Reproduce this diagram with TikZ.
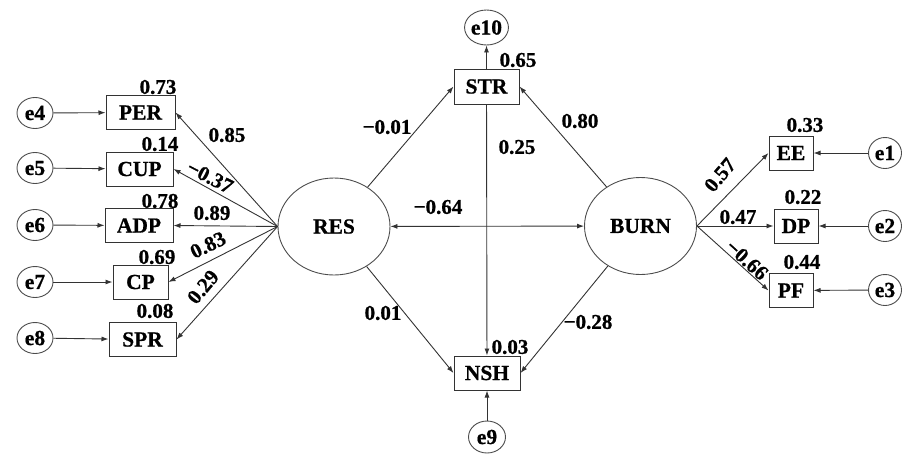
\documentclass[tikz,border=0pt]{standalone}
\usepackage{fontspec}
\setmainfont{Liberation Serif}
\newfontfamily\diagfont{Liberation Serif Bold}[FakeBold=0.8]
\usetikzlibrary{arrows.meta,shapes.geometric}
\begin{document}
\begin{tikzpicture}[x=1pt,y=-1pt,
  font=\diagfont\fontsize{21.5}{24}\selectfont,
  obs/.style={draw=black!80, line width=1pt, minimum height=34pt, inner sep=0pt},
  lat/.style={ellipse, draw=black!70, line width=0.9pt, minimum width=112pt, minimum height=97pt, inner sep=0pt},
  err/.style={ellipse, draw=black!70, line width=0.9pt, minimum width=36pt, minimum height=31pt, inner sep=0pt},
  arr/.style={draw=black!80, line width=0.9pt, -{Latex[length=7pt,width=5pt]}},
  darr/.style={draw=black!80, line width=0.9pt, {Latex[length=7pt,width=5pt]}-{Latex[length=7pt,width=5pt]}},
  lab/.style={font=\diagfont\fontsize{21}{23}\selectfont, inner sep=0pt}]
\useasboundingbox (0,0) rectangle (902,453);
% latent
\node[lat] (RES) at (334,226.5) {RES};
\node[lat] (BURN) at (640.5,226) {BURN};
% left indicators
\node[obs, minimum width=69pt] (PER) at (140.5,112.5) {PER};
\node[obs, minimum width=67pt] (CUP) at (139.5,169) {CUP};
\node[obs, minimum width=68pt] (ADP) at (139,225.5) {ADP};
\node[obs, minimum width=55pt] (CP) at (140.5,282) {CP};
\node[obs, minimum width=67pt] (SPR) at (142.5,339.5) {SPR};
\node[err] (e4) at (35,113) {e4};
\node[err] (e5) at (35,168) {e5};
\node[err] (e6) at (35,225) {e6};
\node[err] (e7) at (35,282) {e7};
\node[err] (e8) at (35,338) {e8};
% center
\node[obs, minimum width=65pt, minimum height=35pt] (STR) at (486.5,86.5) {STR};
\node[err, minimum width=39pt, minimum height=35pt] (e10) at (486.5,27.5) {e10};
\node[obs, minimum width=66pt] (NSH) at (487,373) {NSH};
\node[err, minimum width=37pt, minimum height=32pt] (e9) at (487,437) {e9};
% right indicators
\node[obs, minimum width=44pt] (EE) at (791,153) {EE};
\node[obs, minimum width=44pt] (DP) at (796,226) {DP};
\node[obs, minimum width=44pt] (PF) at (791,290.5) {PF};
\node[err, minimum width=33pt] (e1) at (885,153) {e1};
\node[err, minimum width=33pt] (e2) at (885,226) {e2};
\node[err, minimum width=33pt] (e3) at (885,290) {e3};
% error arrows
\draw[arr] (e4) -- (PER);
\draw[arr] (e5) -- (CUP);
\draw[arr] (e6) -- (ADP);
\draw[arr] (e7) -- (CP);
\draw[arr] (e8) -- (SPR);
\draw[arr] (e1) -- (EE);
\draw[arr] (e2) -- (DP);
\draw[arr] (e3) -- (PF);
\draw[arr] (STR) -- (e10);
\draw[arr] (e9) -- (NSH);
% loadings
\draw[arr] (RES.west) -- (PER.east);
\draw[arr] (RES.west) -- (CUP.east);
\draw[arr] (RES.west) -- (ADP.east);
\draw[arr] (RES.west) -- (CP.east);
\draw[arr] (RES.west) -- (SPR.east);
\draw[arr] (BURN.east) -- (EE.west);
\draw[arr] (BURN.east) -- (DP.west);
\draw[arr] (BURN.east) -- (PF.west);
% structural
\draw[darr] (RES) -- (BURN);
\draw[arr] (RES) -- (STR.west);
\draw[arr] (BURN) -- (STR.east);
\draw[arr] (RES) -- (NSH.west);
\draw[arr] (BURN) -- (NSH.east);
\draw[arr] (STR) -- (NSH);
% labels
\node[lab] at (158,87) {0.73};
\node[lab] at (160,144) {0.14};
\node[lab] at (160,201) {0.78};
\node[lab] at (157,257) {0.69};
\node[lab] at (155,311) {0.08};
\node[lab] at (227,135) {0.85};
\node[lab, rotate=-27] at (210,177) {−0.37};
\node[lab] at (212,213) {0.89};
\node[lab, rotate=26] at (208,245) {0.83};
\node[lab, rotate=50] at (203,287) {0.29};
\node[lab] at (518,60) {0.65};
\node[lab] at (387,127) {−0.01};
\node[lab] at (517,147) {0.25};
\node[lab] at (580,121) {0.80};
\node[lab] at (438,207) {−0.64};
\node[lab] at (510,347) {0.03};
\node[lab] at (383,313) {0.01};
\node[lab] at (588,322) {−0.28};
\node[lab] at (805,125) {0.33};
\node[lab] at (803,197) {0.22};
\node[lab] at (802,262) {0.44};
\node[lab, rotate=50] at (720,175) {0.57};
\node[lab] at (738,217) {0.47};
\node[lab, rotate=-42] at (747,260) {−0.66};
\end{tikzpicture}
\end{document}
